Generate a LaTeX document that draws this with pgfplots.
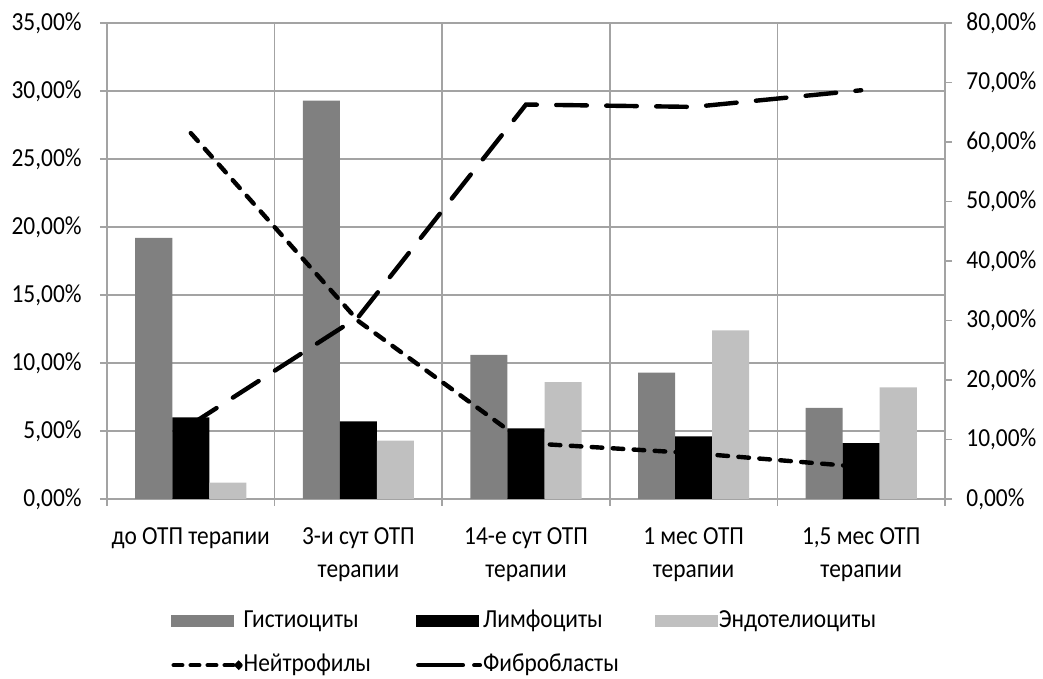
\documentclass[border=0pt]{standalone}
\usepackage{fontspec}
\setmainfont{Carlito}[FakeStretch=0.9]
\usepackage{pgfplots}
\usepackage{pgfplotstable}
\pgfplotsset{compat=1.18}

\definecolor{histo}{HTML}{808080}
\definecolor{endo}{HTML}{C0C0C0}
\definecolor{gridc}{HTML}{A3A3A3}

% cell shares per stage of therapy, in percent
\pgfplotstableread{
x hist lymph endo neut fibro
0 19.2 6.0 1.2 61.5 12.5
1 29.3 5.7 4.3 29.9 30.6
2 10.6 5.2 8.6 9.4 66.3
3 9.3 4.6 12.4 7.7 65.9
4 6.7 4.1 8.2 5.4 68.7
}\celldata

\pgfplotsset{
  base/.style={
    scale only axis, width=419pt, height=238pt,
    at={(0,0)}, anchor=south west,
    xmin=-0.5, xmax=4.5,
    axis line style={gridc, line width=0.8pt},
    tick style={gridc, line width=0.8pt},
    tick align=outside,
    major tick length=3.5pt,
    ticklabel style={font=\fontsize{13}{16.5}\selectfont, text=black},
  },
  barswatch/.style={legend image code/.code={
      \fill[#1] (0pt,-2.75pt) rectangle (31pt,2.75pt);}},
}

\begin{document}
\begin{tikzpicture}[font=\fontsize{13}{16.5}\selectfont]
\path[use as bounding box] (-53.5pt,-90pt) rectangle (468pt,249.5pt);

% left axis: bars
\begin{axis}[
  base,
  ymin=0, ymax=35,
  axis x line*=bottom, axis y line*=left,
  xtick={-0.5,0.5,...,4.5}, xticklabels={},
  xmajorgrids,
  extra x ticks={0,1,2,3,4},
  extra x tick labels={до ОТП терапии, 3-и сут ОТП\\терапии, 14-е сут ОТП\\терапии, 1 мес ОТП\\терапии, {1,5 мес ОТП\\терапии}},
  extra x tick style={major tick length=0pt, grid=none,
    xticklabel style={align=center, inner sep=0pt, anchor=north, yshift=-14pt}},
  ytick={0,5,...,35},
  yticklabels={{0,00\%},{5,00\%},{10,00\%},{15,00\%},{20,00\%},{25,00\%},{30,00\%},{35,00\%}},
  yticklabel style={inner sep=0pt, anchor=east, xshift=-9pt},
  ymajorgrids,
  grid style={gridc, line width=0.8pt},
  ybar, bar width=0.221,
]
\addplot[fill=histo, draw=none, bar shift=-0.221] table[x=x, y=hist] {\celldata};
\addplot[fill=black, draw=none, bar shift=0] table[x=x, y=lymph] {\celldata};
\addplot[fill=endo, draw=none, bar shift=0.221] table[x=x, y=endo] {\celldata};
\end{axis}

% right axis: lines
\begin{axis}[
  base,
  ymin=0, ymax=80,
  axis x line=none, axis y line*=right,
  ytick={0,10,...,80},
  yticklabels={{0,00\%},{10,00\%},{20,00\%},{30,00\%},{40,00\%},{50,00\%},{60,00\%},{70,00\%},{80,00\%}},
  yticklabel style={inner sep=0pt, anchor=west, xshift=7pt},
  legend columns=3,
  legend style={at={(axis description cs:0.076,-0.2265)}, anchor=north west,
    draw=none, fill=none, inner sep=0pt, row sep=8pt,
    font=\fontsize{13}{16.5}\selectfont,
    nodes={inner xsep=0.5pt, inner ysep=1pt, text height=9pt, text depth=3pt, anchor=west}},
]
\addlegendimage{barswatch={histo}}
\addlegendentry{\makebox[85.5pt][l]{Гистиоциты}}
\addlegendimage{barswatch={black}}
\addlegendentry{\makebox[85.5pt][l]{Лимфоциты}}
\addlegendimage{barswatch={endo}}
\addlegendentry{\makebox[85.5pt][l]{Эндотелиоциты}}

\addplot[black, line width=2.2pt, line cap=round, dash pattern=on 5.3pt off 5.2pt,
  legend image code/.code={
    \draw[black, line width=2.2pt, line cap=round, solid]
      (1.1pt,0pt) -- (5.4pt,0pt) (9.6pt,0pt) -- (13.9pt,0pt)
      (18.1pt,0pt) -- (22.4pt,0pt) (26.6pt,0pt) -- (30.9pt,0pt);
    \fill[black] (33.6pt,0pt) circle (0.9pt);}]
  table[x=x, y=neut] {\celldata};
\addlegendentry{\makebox[85.5pt][l]{Нейтрофилы}}
\addplot[black, line width=2.2pt, line cap=round, dash pattern=on 15.3pt off 9.7pt,
  legend image code/.code={
    \draw[black, line width=2.2pt, line cap=round, solid]
      (1.1pt,0pt) -- (23.4pt,0pt) (29.1pt,0pt) -- (31.9pt,0pt);}]
  table[x=x, y=fibro] {\celldata};
\addlegendentry{\makebox[85.5pt][l]{Фибробласты}}
\end{axis}
\end{tikzpicture}
\end{document}
